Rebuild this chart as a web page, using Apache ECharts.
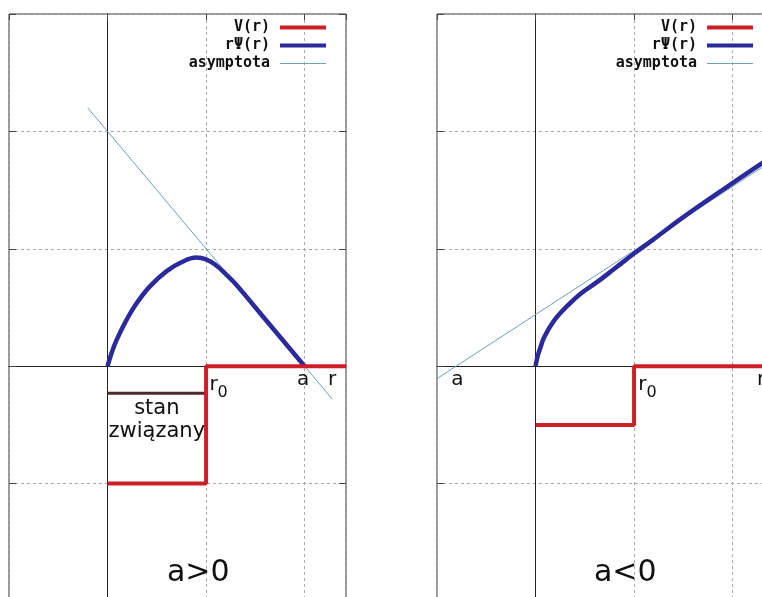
<!DOCTYPE html>
<html>
<head>
<meta charset="utf-8">
<script src="https://cdn.jsdelivr.net/npm/echarts@6/dist/echarts.min.js"></script>
<style>
  html, body { margin: 0; padding: 0; background: #ffffff; }
  #chart { width: 762px; height: 597px; }
</style>
</head>
<body>
<div id="chart"></div>
<script>
// Square potential well V(r), reduced radial function rΨ(r) and its outer asymptote,
// for a positive (left) and a negative (right) scattering length a.

const legendNames = ['V(r)', 'rΨ(r)', 'asymptota'];
const panelTitles = ['a>0', 'a<0'];

// ---- a > 0 : bound state exists ----
const potentialPos = [[0, -1], [1, -1], [1, 0], [2.42, 0]];
const wavePos = [
  [0, 0], [0.04, 0.11], [0.09, 0.22], [0.19, 0.39], [0.29, 0.53], [0.43, 0.68],
  [0.6, 0.81], [0.76, 0.89], [0.9, 0.925], [1.0, 0.91], [1.1, 0.86], [1.2, 0.785],
  [1.3, 0.70], [1.6, 0.40], [2.0, 0]
];
const asymptotePos = [[-0.2, 2.2], [2.28, -0.28]];
const boundStateLevel = [[0, -0.23], [1, -0.23]];

// ---- a < 0 : no bound state ----
const potentialNeg = [[0, -0.5], [1, -0.5], [1, 0], [2.42, 0]];
const waveNeg = [
  [0, 0], [0.02, 0.08], [0.04, 0.135], [0.09, 0.25], [0.19, 0.39], [0.33, 0.52],
  [0.46, 0.62], [0.63, 0.72], [0.8, 0.83], [1.0, 0.96], [1.18, 1.07], [1.5, 1.27],
  [2.0, 1.56], [2.3, 1.73], [2.42, 1.79]
];
const asymptoteNeg = [[-1, -0.106], [2.42, 1.76]];

// text anchors, in axis units
const notesPos = [
  { name: 'r0', value: [1.127, -0.16] },
  { name: 'a', value: [1.985, -0.12] },
  { name: 'r', value: [2.279, -0.12] },
  { name: 'stan\nzwiązany', value: [0.5, -0.46] },
  { name: panelTitles[0], value: [0.92, -1.76] }
];
const notesNeg = [
  { name: 'r0', value: [1.137, -0.16] },
  { name: 'a', value: [-0.792, -0.12] },
  { name: 'r', value: [2.289, -0.12] },
  { name: panelTitles[1], value: [0.91, -1.76] }
];

const COLORS = { red: '#cc1f26', blue: '#2a2a9c', asym: '#6aa3b3', bound: '#4d2a2a', text: '#111111' };
const X_MIN = -1, X_MAX = 2.42, Y_MIN = -2, Y_MAX = 3;

const chart = echarts.init(document.getElementById('chart'), null, { renderer: 'canvas' });

function mainX(gridIndex, zeroY) {
  return {
    type: 'value', gridIndex, min: X_MIN, max: X_MAX, interval: 1, position: 'bottom',
    axisLine: { show: true, onZero: true, onZeroAxisIndex: zeroY, lineStyle: { color: '#222', width: 1 } },
    axisTick: { show: false }, axisLabel: { show: false },
    splitLine: { show: true, lineStyle: { color: '#a8a8a8', width: 1, type: [3, 3] } }
  };
}
function tickX(gridIndex) {
  return {
    type: 'value', gridIndex, min: X_MIN, max: X_MAX, interval: 1, position: 'top',
    axisLine: { show: false, onZero: false },
    axisTick: { show: true, inside: true, length: 6, lineStyle: { color: '#444' } },
    axisLabel: { show: false }, splitLine: { show: false }
  };
}
function mainY(gridIndex, zeroX) {
  return {
    type: 'value', gridIndex, min: Y_MIN, max: Y_MAX, interval: 1, position: 'left',
    axisLine: { show: true, onZero: true, onZeroAxisIndex: zeroX, lineStyle: { color: '#222', width: 1 } },
    axisTick: { show: false }, axisLabel: { show: false },
    splitLine: { show: true, lineStyle: { color: '#a8a8a8', width: 1, type: [3, 3] } }
  };
}
function tickY(gridIndex, side) {
  return {
    type: 'value', gridIndex, min: Y_MIN, max: Y_MAX, interval: 1, position: side,
    axisLine: { show: false, onZero: false },
    axisTick: { show: true, inside: true, length: 7, lineStyle: { color: '#444' } },
    axisLabel: { show: false }, splitLine: { show: false }
  };
}

function lineSeries(name, data, xi, yi, color, width, z, smooth) {
  return {
    name, type: 'line', xAxisIndex: xi, yAxisIndex: yi, data,
    symbol: 'none', smooth: smooth || false, z,
    lineStyle: { color, width }, itemStyle: { color },
    silent: true, animation: false
  };
}

const richNote = {
  r: { fontSize: 20, fontFamily: 'DejaVu Sans', color: COLORS.text },
  s: { fontSize: 16, fontFamily: 'DejaVu Sans', color: COLORS.text, padding: [16, 0, 0, 0] },
  t: { fontSize: 20, fontFamily: 'DejaVu Sans', color: COLORS.text },
  big: { fontSize: 30, fontFamily: 'DejaVu Sans', color: COLORS.text },
  mid: { fontSize: 21, lineHeight: 23, fontFamily: 'DejaVu Sans', color: COLORS.text, align: 'center' }
};
function noteText(name) {
  if (name === 'r0') return '{r|r}{s|0}';
  if (name === 'a' || name === 'r') return '{t|' + name + '}';
  if (name.indexOf('\n') >= 0) return name.split('\n').map(l => '{mid|' + l + '}').join('\n');
  return '{big|' + name + '}';
}
function noteSeries(data, xi, yi) {
  return {
    type: 'scatter', xAxisIndex: xi, yAxisIndex: yi, data,
    symbolSize: 1, itemStyle: { color: 'rgba(0,0,0,0)', opacity: 1 }, z: 10, silent: true,
    label: {
      show: true, position: 'inside', align: 'center', verticalAlign: 'middle',
      color: COLORS.text, opacity: 1,
      formatter: p => noteText(p.name), rich: richNote
    }
  };
}

function legendFor(right) {
  return {
    orient: 'vertical', align: 'right', right, top: 20, padding: 0,
    itemWidth: 46, itemHeight: 14, itemGap: 3, selectedMode: false,
    textStyle: { fontFamily: 'DejaVu Sans Mono', fontWeight: 'bold', fontSize: 15, color: '#111', padding: [0, 5, 0, 0] },
    data: [
      { name: legendNames[0], itemStyle: { opacity: 0 }, lineStyle: { width: 4, color: COLORS.red } },
      { name: legendNames[1], itemStyle: { opacity: 0 }, lineStyle: { width: 4, color: COLORS.blue } },
      { name: legendNames[2], itemStyle: { opacity: 0 }, lineStyle: { width: 1, color: COLORS.asym } }
    ]
  };
}

const gridBase = { show: true, backgroundColor: '#fff', borderColor: '#333333', borderWidth: 1, top: 14, width: 337, height: 587, outerBoundsMode: 'none', containLabel: false };

chart.setOption({
  animation: false,
  backgroundColor: '#ffffff',
  grid: [
    Object.assign({}, gridBase, { left: 9 }),
    Object.assign({}, gridBase, { left: 437 })
  ],
  xAxis: [mainX(0, 0), tickX(0), mainX(1, 3), tickX(1)],
  yAxis: [mainY(0, 0), tickY(0, 'left'), tickY(0, 'right'), mainY(1, 2), tickY(1, 'left'), tickY(1, 'right')],
  legend: [legendFor(434), legendFor(7)],
  series: [
    lineSeries(legendNames[2], asymptotePos, 0, 0, COLORS.asym, 1, 3),
    lineSeries('stan', boundStateLevel, 0, 0, COLORS.bound, 3, 4),
    lineSeries(legendNames[1], wavePos, 0, 0, COLORS.blue, 4.5, 5, 0.4),
    lineSeries(legendNames[0], potentialPos, 0, 0, COLORS.red, 4, 6),
    noteSeries(notesPos, 0, 0),

    lineSeries(legendNames[2], asymptoteNeg, 2, 3, COLORS.asym, 1, 3),
    lineSeries(legendNames[1], waveNeg, 2, 3, COLORS.blue, 4.5, 5, 0.4),
    lineSeries(legendNames[0], potentialNeg, 2, 3, COLORS.red, 4, 6),
    noteSeries(notesNeg, 2, 3)
  ]
});
</script>
</body>
</html>
